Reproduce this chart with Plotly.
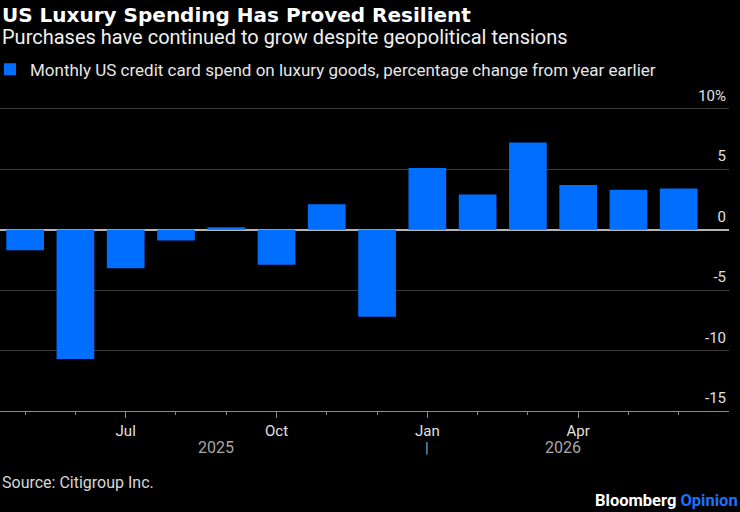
import plotly.graph_objects as go

# monthly data, May 2025 - Jun 2026
months = ["May", "Jun", "Jul", "Aug", "Sep", "Oct", "Nov", "Dec",
          "Jan", "Feb", "Mar", "Apr", "May", "Jun"]
years = [2025] * 8 + [2026] * 6
spend_change = [-1.7, -10.7, -3.2, -0.9, 0.2, -2.9, 2.1, -7.2,
                5.1, 2.9, 7.2, 3.7, 3.3, 3.4]

y_ticks = [10, 5, 0, -5, -10, -15]
y_labels = ["10%", "5", "0", "-5", "-10", "-15"]

labelled = ["Jul", "Oct", "Jan", "Apr"]

BLUE = "#006EFF"
FONT = "Roboto"

x = list(range(len(months)))
tick_vals = [i for i, m in enumerate(months) if m in labelled]
tick_text = [months[i] for i in tick_vals]

# y range runs a bit past 10 so the label over the top grid line still shows
Y_MIN, Y_MAX = -15, 11.8
PX_PER_UNIT = 302 / 25
BOTTOM = 411
TOP = BOTTOM - (Y_MAX - Y_MIN) * PX_PER_UNIT


def py(pix):
    return (BOTTOM - pix) / (BOTTOM - TOP)


fig = go.Figure()
fig.add_trace(go.Bar(
    x=x, y=spend_change, width=0.75,
    marker=dict(color=BLUE, line=dict(width=0)),
    name="Monthly US credit card spend on luxury goods, percentage change from year earlier",
))

fig.update_layout(
    width=740, height=512,
    paper_bgcolor="black", plot_bgcolor="black",
    margin=dict(l=0, r=11, t=TOP, b=512 - BOTTOM),
    font=dict(family=FONT, color="#dddddd", size=14),
    showlegend=True,
    legend=dict(x=0, y=py(70), xanchor="left", yanchor="middle",
                bgcolor="rgba(0,0,0,0)", font=dict(size=17, color="#e6e6e6"),
                itemwidth=30, indentation=-10),
    bargap=0.25,
)

fig.update_xaxes(
    range=[-0.5, 14.0], showgrid=False, zeroline=False,
    showline=True, linecolor="#8a8a8a", linewidth=1,
    tickmode="array", tickvals=tick_vals, ticktext=tick_text,
    ticks="outside", ticklen=6, tickcolor="#8a8a8a",
    tickfont=dict(size=15, color="#e0e0e0"),
    minor=dict(tickmode="array", tickvals=x, ticks="outside", ticklen=3,
               tickcolor="#8a8a8a"),
)

fig.update_yaxes(
    range=[Y_MIN, Y_MAX], side="right",
    tickmode="array", tickvals=y_ticks, ticktext=y_labels,
    ticklabelposition="inside", ticklabelshift=-13, ticklabelstandoff=0,
    ticks="", showgrid=True, gridcolor="#3d3d3d", gridwidth=1,
    zeroline=True, zerolinecolor="#b5b5b5", zerolinewidth=1.5,
    tickfont=dict(size=15, color="#e0e0e0"),
)

# year row under the month labels
year_pos = {2025: 3.8, 2026: 10.7}
for yr, xpos in year_pos.items():
    fig.add_annotation(x=xpos, y=py(447), xref="x", yref="paper", text=str(yr),
                       yanchor="middle", showarrow=False,
                       font=dict(size=16, color="#a8a8a8"))
first_2026 = years.index(2026)
fig.add_annotation(x=first_2026, y=py(448), xref="x", yref="paper", text="|",
                   yanchor="middle", showarrow=False,
                   font=dict(size=15, color="#a8a8a8"))

texts = [
    (0, 15, "left", "<b>US Luxury Spending Has Proved Resilient</b>",
     dict(family="DejaVu Sans", size=20, color="white")),
    (0, 37, "left", "Purchases have continued to grow despite geopolitical tensions",
     dict(size=20, color="#f0f0f0")),
    (0, 482, "left", "Source: Citigroup Inc.",
     dict(size=16, color="#d8d8d8")),
    (1.015, 500, "right", "<b>Bloomberg <span style='color:#1a73ff'>Opinion</span></b>",
     dict(size=16.5, color="white")),
]
for xp, ypix, anchor, txt, fnt in texts:
    fig.add_annotation(x=xp, y=py(ypix), xref="paper", yref="paper",
                       xanchor=anchor, yanchor="middle", text=txt,
                       showarrow=False, font=fnt)

fig.write_html("out.html", config={"displayModeBar": False},
               post_script="document.body.style.margin='0';")
